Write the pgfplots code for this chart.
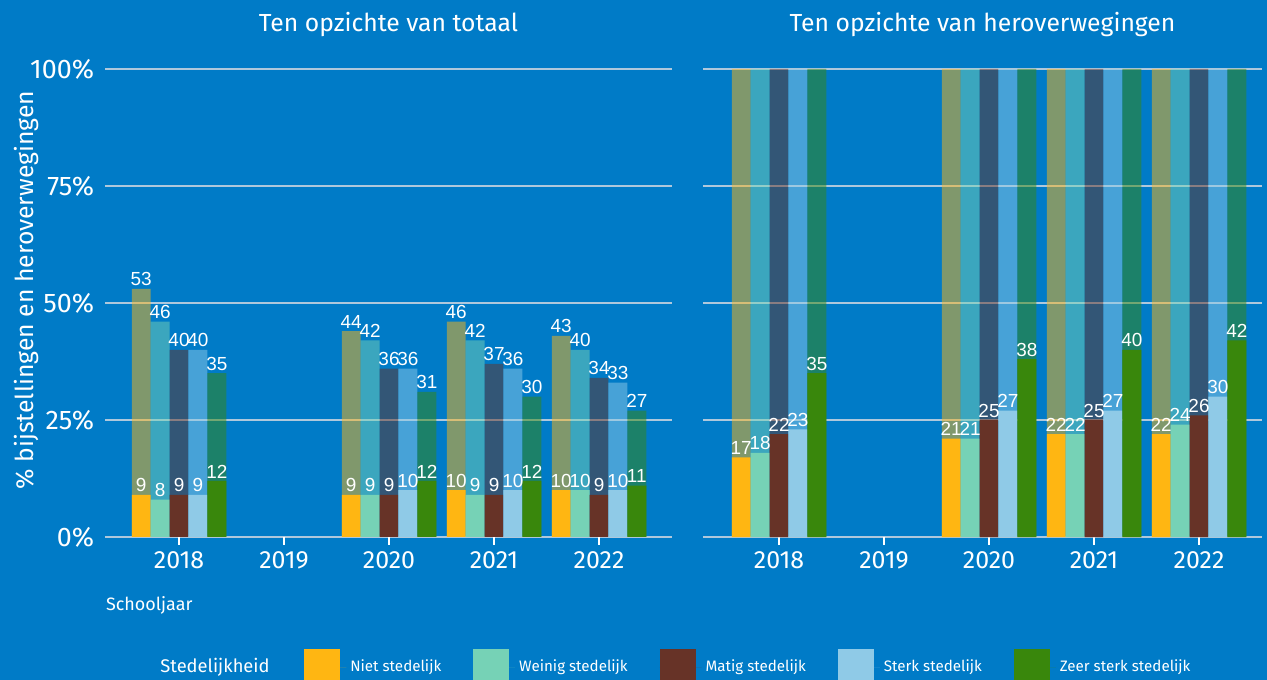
\documentclass[border=0pt]{standalone}
\usepackage{pgfplots}
\pgfplotsset{compat=1.18}
\usepackage{pgfplotstable}
\usepackage{fontspec}
\setmainfont{Fira Sans}
\newfontfamily\labfont{Liberation Sans}

\definecolor{bg}{HTML}{007BC7}
\definecolor{gridc}{RGB}{175,200,220}
\definecolor{cA}{HTML}{FFB612}
\definecolor{cB}{HTML}{76D2B6}
\definecolor{cC}{HTML}{673327}
\definecolor{cD}{HTML}{8FCAE7}
\definecolor{cE}{HTML}{39870C}

% Ten opzichte van totaal
\pgfplotstableread{
year a  b  c  d  e
2018 53 46 40 40 35
2020 44 42 36 36 31
2021 46 42 37 36 30
2022 43 40 34 33 27
}\totback
\pgfplotstableread{
year a  b  c  d  e
2018 9  8  9  9  12
2020 9  9  9  10 12
2021 10 9  9  10 12
2022 10 10 9  10 11
}\totfront
% Ten opzichte van heroverwegingen
\pgfplotstableread{
year a   b   c   d   e
2018 100 100 100 100 100
2020 100 100 100 100 100
2021 100 100 100 100 100
2022 100 100 100 100 100
}\herback
\pgfplotstableread{
year a  b  c  d  e
2018 17 18 22 23 35
2020 21 21 25 27 38
2021 22 22 25 27 40
2022 22 24 26 30 42
}\herfront

\pgfplotsset{
  panel/.style={
    scale only axis, height=234bp, anchor=south west,
    ymin=0, ymax=100, ytick={0,25,50,75,100},
    xtick={2018,2019,2020,2021,2022},
    axis x line*=bottom, axis y line*=left, axis line style={draw=none},
    ymajorgrids, grid style={gridc, line width=1bp},
    ytick style={draw=none},
    xtick style={white, line width=1.1bp},
    tick align=outside, major tick length=4bp,
    /pgf/number format/assume math mode=true,
    xticklabel style={text=white, font=\fontsize{12.5}{13}\selectfont,
      /pgf/number format/.cd, set thousands separator={}},
    yticklabel style={text=white, font=\fontsize{13.5}{14}\selectfont, xshift=2bp},
    ybar, bar width=0.18, clip=false,
    title style={text=white, font=\fontsize{12.4}{13}\selectfont,
      at={(0.5,1)}, anchor=center, yshift=16.5bp},
  },
  back/.style={fill=#1, draw=none, fill opacity=0.5, forget plot},
  front/.style={fill=#1, draw=none},
  lab/.style={nodes near coords,
    every node near coord/.append style={font=\labfont\fontsize{9.5}{10}\selectfont,
      text=white, text opacity=1, inner sep=1.2bp}},
}

\begin{document}
\begin{tikzpicture}
\fill[bg] (0,0) rectangle (633.5bp,340bp);
\useasboundingbox (0,0) rectangle (633.5bp,340bp);

\begin{axis}[panel, at={(52.5bp,71.5bp)}, width=283.5bp,
  xmin=2017.295, xmax=2022.695,
  title={Ten opzichte van totaal},
  yticklabel={\pgfmathprintnumber{\tick}\%},
  ylabel={\% bijstellingen en heroverwegingen},
  every axis y label/.style={at={(axis description cs:-0.1376,0.528)}, rotate=90,
    anchor=center, text=white, font=\fontsize{12.4}{13}\selectfont},
  xlabel={Schooljaar},
  every axis x label/.style={at={(axis description cs:0,-0.1453)}, anchor=west,
    xshift=-3bp, text=white, font=\fontsize{9}{10}\selectfont},
]
\addplot[back=cA, lab, bar shift=-0.36] table[x=year,y=a]{\totback};
\addplot[back=cB, lab, bar shift=-0.18] table[x=year,y=b]{\totback};
\addplot[back=cC, lab, bar shift=0]     table[x=year,y=c]{\totback};
\addplot[back=cD, lab, bar shift=0.18]  table[x=year,y=d]{\totback};
\addplot[back=cE, lab, bar shift=0.36]  table[x=year,y=e]{\totback};
\addplot[front=cA, lab, bar shift=-0.36] table[x=year,y=a]{\totfront};
\addplot[front=cB, lab, bar shift=-0.18] table[x=year,y=b]{\totfront};
\addplot[front=cC, lab, bar shift=0]     table[x=year,y=c]{\totfront};
\addplot[front=cD, lab, bar shift=0.18]  table[x=year,y=d]{\totfront};
\addplot[front=cE, lab, bar shift=0.36]  table[x=year,y=e]{\totfront};
\end{axis}

\begin{axis}[panel, at={(351.5bp,71.5bp)}, width=279.5bp,
  xmin=2017.276, xmax=2022.6,
  title={Ten opzichte van heroverwegingen},
  yticklabels={},
  legend style={at={(axis description cs:-0.712,-0.2778)}, anchor=west,
    xshift=-3.5bp,
    draw=none, fill=none, text=white, font=\fontsize{7.6}{8}\selectfont,
    /tikz/every even column/.append style={column sep=14bp}},
  legend columns=-1,
  legend image code/.code={\fill[#1] (0bp,-9bp) rectangle (18bp,9bp);
    \path (0bp,0bp) -- (21bp,0bp);},
]
\addplot[back=cA, bar shift=-0.36] table[x=year,y=a]{\herback};
\addplot[back=cB, bar shift=-0.18] table[x=year,y=b]{\herback};
\addplot[back=cC, bar shift=0]     table[x=year,y=c]{\herback};
\addplot[back=cD, bar shift=0.18]  table[x=year,y=d]{\herback};
\addplot[back=cE, bar shift=0.36]  table[x=year,y=e]{\herback};
\addplot[front=cA, lab, bar shift=-0.36] table[x=year,y=a]{\herfront};
\addlegendentry{Niet stedelijk}
\addplot[front=cB, lab, bar shift=-0.18] table[x=year,y=b]{\herfront};
\addlegendentry{Weinig stedelijk}
\addplot[front=cC, lab, bar shift=0]     table[x=year,y=c]{\herfront};
\addlegendentry{Matig stedelijk}
\addplot[front=cD, lab, bar shift=0.18]  table[x=year,y=d]{\herfront};
\addlegendentry{Sterk stedelijk}
\addplot[front=cE, lab, bar shift=0.36]  table[x=year,y=e]{\herfront};
\addlegendentry{Zeer sterk stedelijk}
\end{axis}

\node[text=white, font=\fontsize{9.2}{10}\selectfont] at (107.5bp,6.5bp) {Stedelijkheid};
\end{tikzpicture}
\end{document}
